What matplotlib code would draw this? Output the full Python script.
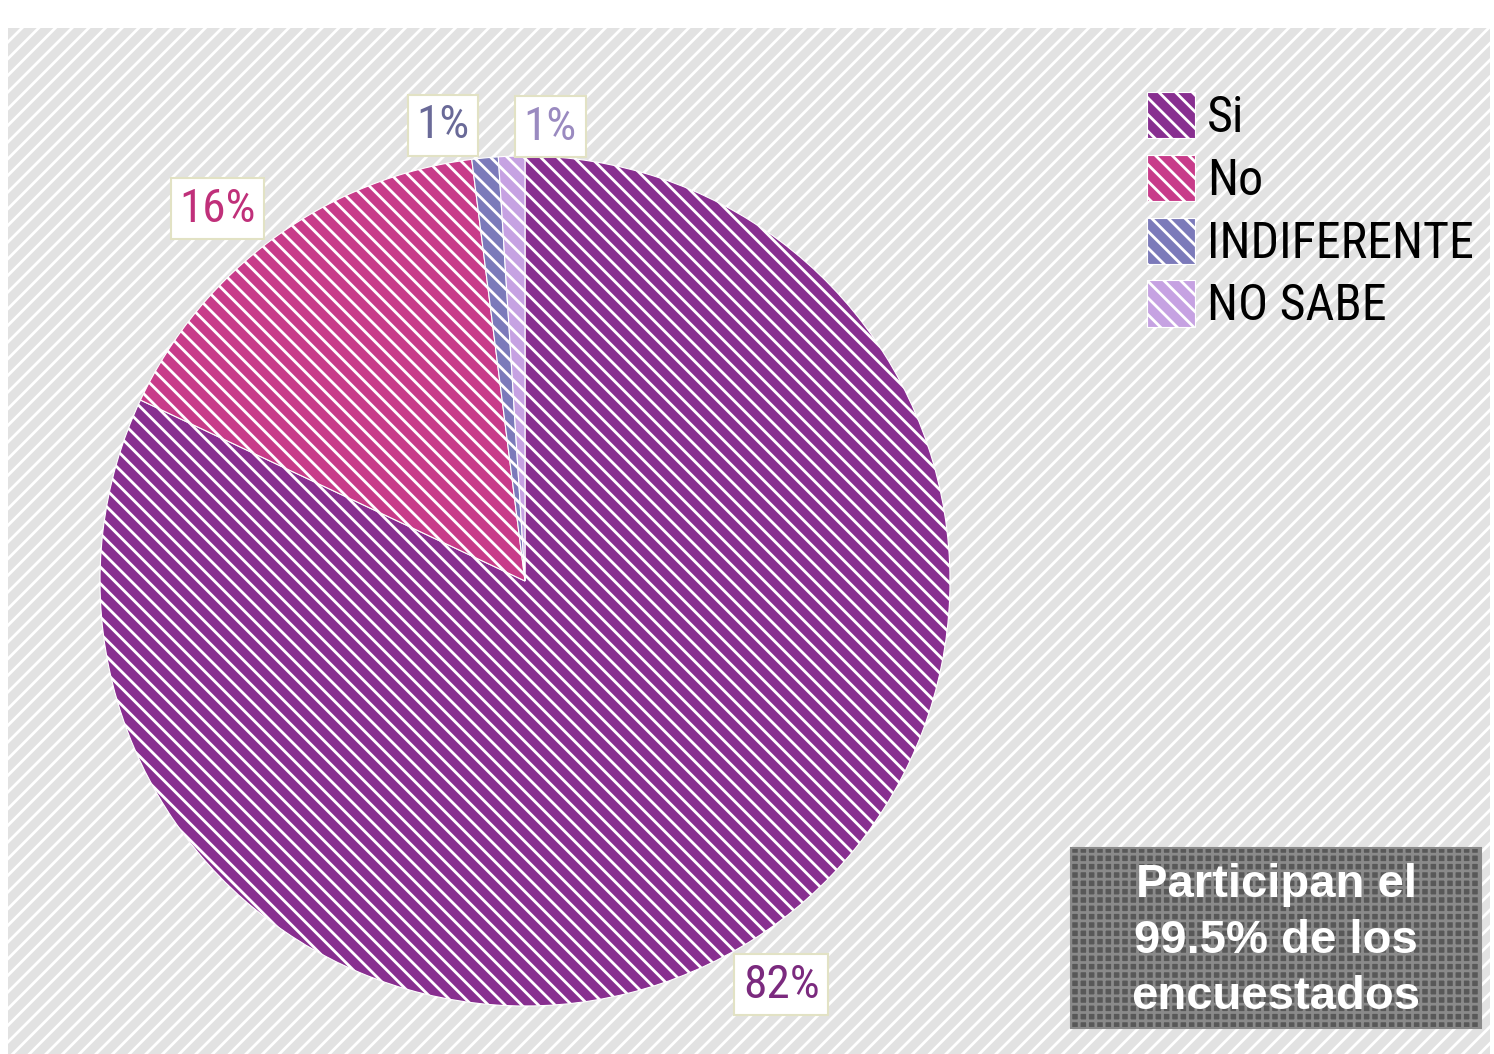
import numpy as np
import matplotlib
matplotlib.use('Agg')
import matplotlib.pyplot as plt
from matplotlib.patches import Rectangle

plt.rcParams['hatch.linewidth'] = 2.0

# data
categories = ['Si', 'No', 'INDIFERENTE', 'NO SABE']
values = [82, 16, 1, 1]
value_labels = ['82%', '16%', '1%', '1%']

colors = ['#882f90', '#c83c8a', '#7c7aba', '#c6a2e2']
label_colors = ['#7b2a7e', '#c0307a', '#6a6a98', '#9a8ac0']
# small angle nudges / distances for the value labels
label_nudge = [0, 3.6, 4.8, -5.0]
label_dist = [1.125, 1.136, 1.089, 1.07]

note = 'Participan el\n99.5% de los\nencuestados'

W, H = 1494, 1054
narrow = ['Roboto Condensed', 'Archivo Narrow', 'PT Sans Narrow', 'DejaVu Sans']

fig = plt.figure(figsize=(W / 100, H / 100), dpi=100)

# striped gray background
bg = Rectangle((8 / W, 0), 1 - 12 / W, (H - 28) / H, transform=fig.transFigure,
               facecolor='#e2e2e2', edgecolor='white', hatch='//', lw=0, zorder=0)
fig.add_artist(bg)

# pie
cx, cy, r = 525, 581, 425
ax = fig.add_axes([(cx - r) / W, 1 - (cy + r) / H, 2 * r / W, 2 * r / H])
wedges, _ = ax.pie(values, colors=colors, startangle=90, counterclock=False, radius=1,
                   wedgeprops=dict(edgecolor='white', linewidth=0.8, hatch='\\\\'))
ax.set_xlim(-1, 1)
ax.set_ylim(-1, 1)
ax.axis('off')

for i, w in enumerate(wedges):
    ang = np.deg2rad((w.theta1 + w.theta2) / 2 + label_nudge[i])
    ax.text(label_dist[i] * np.cos(ang), label_dist[i] * np.sin(ang), value_labels[i],
            ha='center', va='center', fontsize=34, family=narrow, fontstretch='condensed',
            color=label_colors[i],
            bbox=dict(boxstyle='square,pad=0.18', facecolor='white', edgecolor='#e2e2c4', lw=1.5),
            clip_on=False, zorder=5)

# legend
ax.legend(wedges, categories, loc='upper left', bbox_to_anchor=(1147 / W, 1 - 92 / H),
          bbox_transform=fig.transFigure, frameon=False,
          prop=dict(family=narrow, size=36, stretch='condensed'),
          handlelength=0.95, handleheight=1.05,
          labelspacing=0.25, handletextpad=0.25, borderpad=0, borderaxespad=0)

# note box
box = Rectangle((1071 / W, 1 - 1028 / H), 410 / W, 180 / H, transform=fig.transFigure,
                facecolor='#585858', edgecolor='#8a8a8a', hatch='++', lw=1.5, zorder=2)
fig.add_artist(box)
fig.text(1276 / W, 1 - 941 / H, note, ha='center', va='center', fontsize=34,
         fontweight='bold', color='white', family='Liberation Sans', linespacing=1.36,
         zorder=3)

plt.savefig('out.png', dpi=100)
